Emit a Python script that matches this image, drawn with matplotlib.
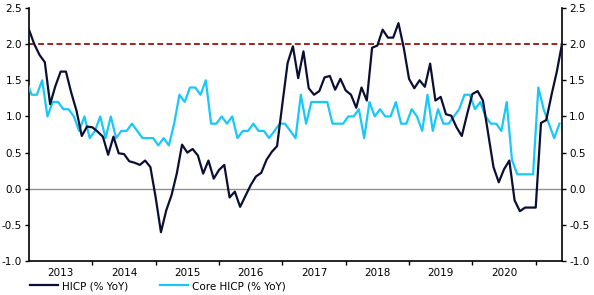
import matplotlib
matplotlib.use('Agg')
import matplotlib.pyplot as plt
import numpy as np

# monthly data, Dec 2012 .. May 2021
hicp = [2.2, 2.0, 1.85, 1.75, 1.17, 1.42, 1.62, 1.62, 1.33, 1.08, 0.73, 0.86, 0.85, 0.79, 0.72, 0.47, 0.72, 0.49,
        0.48, 0.38, 0.36, 0.33, 0.39, 0.30, -0.12, -0.60, -0.30, -0.09, 0.21, 0.61, 0.50, 0.55, 0.46, 0.21, 0.39,
        0.14, 0.26, 0.33, -0.12, -0.04, -0.25, -0.10, 0.05, 0.17, 0.22, 0.40, 0.51, 0.59, 1.17, 1.74, 1.97, 1.53,
        1.90, 1.39, 1.30, 1.35, 1.54, 1.56, 1.37, 1.52, 1.36, 1.30, 1.12, 1.40, 1.22, 1.95, 1.98, 2.20, 2.09,
        2.09, 2.29, 1.95, 1.52, 1.39, 1.50, 1.41, 1.73, 1.22, 1.27, 1.03, 1.01, 0.85, 0.73, 1.03, 1.31, 1.35,
        1.22, 0.76, 0.30, 0.09, 0.27, 0.39, -0.16, -0.31, -0.26, -0.26, -0.26, 0.91, 0.95, 1.30, 1.62, 2.01]

core = [1.5, 1.3, 1.3, 1.5, 1.0, 1.2, 1.2, 1.1, 1.1, 1.0, 0.8, 1.0, 0.7, 0.8, 1.0, 0.7, 1.0, 0.7,
        0.8, 0.8, 0.9, 0.8, 0.7, 0.7, 0.7, 0.6, 0.7, 0.6, 0.9, 1.3, 1.2, 1.4, 1.4, 1.3, 1.5,
        0.9, 0.9, 1.0, 0.9, 1.0, 0.7, 0.8, 0.8, 0.9, 0.8, 0.8, 0.7, 0.8, 0.9, 0.9, 0.8, 0.7,
        1.3, 0.9, 1.2, 1.2, 1.2, 1.2, 0.9, 0.9, 0.9, 1.0, 1.0, 1.1, 0.7, 1.2, 1.0, 1.1, 1.0,
        1.0, 1.2, 0.9, 0.9, 1.1, 1.0, 0.8, 1.3, 0.8, 1.1, 0.9, 0.9, 1.0, 1.1, 1.3, 1.3, 1.1,
        1.2, 1.0, 0.9, 0.9, 0.8, 1.2, 0.4, 0.2, 0.2, 0.2, 0.2, 1.4, 1.1, 0.9, 0.7, 0.9]

years = ['2013', '2014', '2015', '2016', '2017', '2018', '2019', '2020']
target = 2.0

navy = '#0b0f33'
cyan = '#19c8fa'

fig = plt.figure(figsize=(5.94, 2.95), dpi=100)
ax = fig.add_axes([0.0488, 0.115, 0.8975, 0.858])

x = np.arange(len(hicp))
ax.axhline(0, color='#909090', lw=1.0, zorder=1)
ax.axhline(target, color='#8b0000', lw=1.2, ls=(0, (3.5, 2)), zorder=2)
ax.plot(x - 0.5, core, color=cyan, lw=1.6, label='Core HICP (% YoY)', zorder=3)
ax.plot(x, hicp, color=navy, lw=1.6, label='HICP (% YoY)', zorder=4)

ax.set_xlim(0, len(hicp) - 1)
ax.set_ylim(-1.0, 2.5)

ax.set_xticks(np.arange(12, 100, 12))
ax.set_xticks(np.arange(6, 96, 12), minor=True)
ax.set_xticklabels(years, minor=True, fontsize=7.5)
ax.tick_params(axis='x', which='major', length=3, width=1, labelbottom=False, direction='out')
ax.tick_params(axis='x', which='minor', length=0, pad=5)

ax.set_yticks(np.arange(-1.0, 2.51, 0.5))
ax.set_yticklabels([f'{v:.1f}' for v in np.arange(-1.0, 2.51, 0.5)], fontsize=7.5)
ax.tick_params(axis='y', left=True, right=True, labelleft=True, labelright=True,
               length=3, width=1, direction='out', pad=2)

ax.spines['top'].set_visible(False)
for s in ['left', 'right', 'bottom']:
    ax.spines[s].set_linewidth(1.2)
    ax.spines[s].set_color('black')

h, l = ax.get_legend_handles_labels()
ax.legend(h[::-1], l[::-1], loc='upper left', bbox_to_anchor=(0.0, -0.075), ncol=2, frameon=False,
          fontsize=7.5, handlelength=2.7, columnspacing=3.0, handletextpad=0.4, borderaxespad=0,
          borderpad=0.1)

fig.savefig('out.png', dpi=100)
